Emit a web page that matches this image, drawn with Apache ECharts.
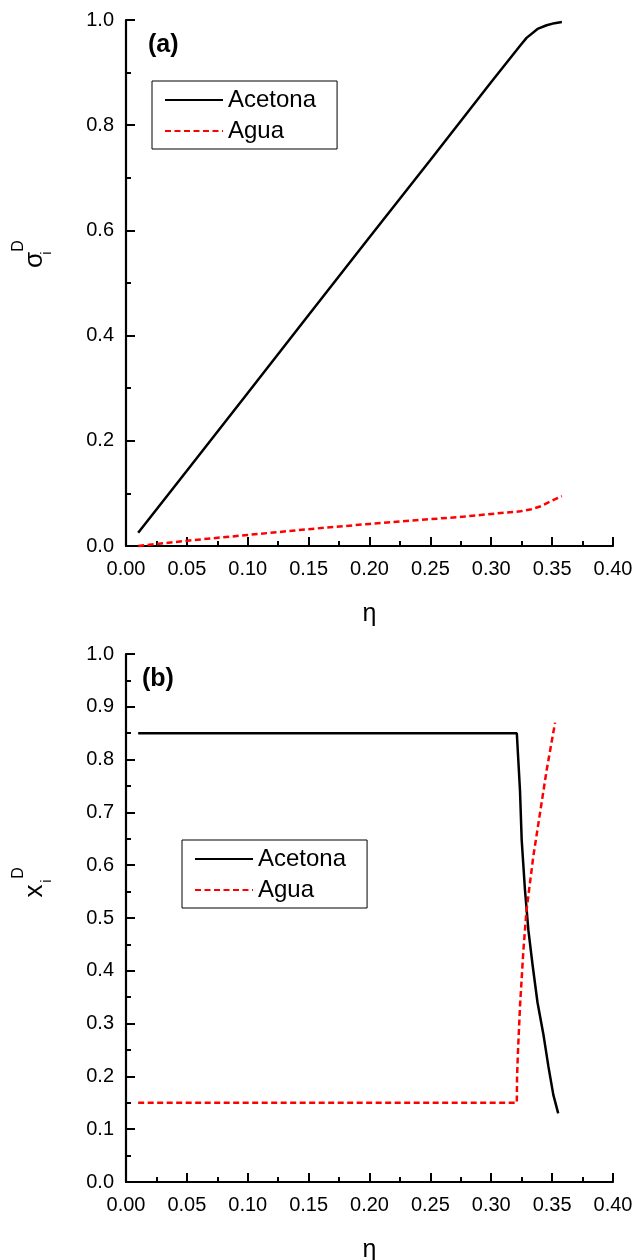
<!DOCTYPE html>
<html>
<head>
<meta charset="utf-8">
<script src="https://cdn.jsdelivr.net/npm/echarts@6/dist/echarts.min.js"></script>
<style>
html,body{margin:0;padding:0;background:#fff;}
#c{width:636px;height:1260px;}
</style>
</head>
<body>
<div id="c"></div>
<script>
// ---- Data ----
// Panel (a): sigma_i^D vs eta
const aAcetona = [[0.01,0.025],[0.05,0.143],[0.10,0.291],[0.15,0.439],[0.20,0.587],[0.25,0.734],[0.30,0.882],[0.324,0.952],[0.329,0.966],[0.338,0.983],[0.3455,0.990],[0.352,0.994],[0.358,0.996]];
const aAgua = [[0.01,0.0],[0.05,0.010],[0.10,0.021],[0.15,0.032],[0.20,0.042],[0.25,0.051],[0.278,0.056],[0.30,0.061],[0.324,0.066],[0.333,0.070],[0.340,0.075],[0.348,0.084],[0.358,0.095]];
// Panel (b): x_i^D vs eta
const bAcetona = [[0.01,0.85],[0.05,0.85],[0.10,0.85],[0.15,0.85],[0.20,0.85],[0.25,0.85],[0.30,0.85],[0.321,0.85],[0.3236,0.742],[0.325,0.648],[0.3277,0.553],[0.3305,0.477],[0.334,0.41],[0.338,0.34],[0.3428,0.28],[0.347,0.218],[0.351,0.165],[0.355,0.13]];
const bAgua = [[0.01,0.15],[0.05,0.15],[0.10,0.15],[0.15,0.15],[0.20,0.15],[0.25,0.15],[0.30,0.15],[0.321,0.15],[0.3212,0.20],[0.322,0.25],[0.3236,0.332],[0.3264,0.439],[0.329,0.515],[0.3345,0.616],[0.340,0.698],[0.3455,0.780],[0.3524,0.870]];
const seriesNames = ['Acetona','Agua'];
const xTicks = {min:0, max:0.4, interval:0.05};
const yTicksA = {min:0, max:1.0, interval:0.2};
const yTicksB = {min:0, max:1.0, interval:0.1};

const FONT = 'Liberation Sans, Arial, sans-serif';
const chart = echarts.init(document.getElementById('c'), null, {renderer:'canvas'});

function xAxis(gi){
  return {
    type:'value', gridIndex:gi, min:xTicks.min, max:xTicks.max, interval:xTicks.interval,
    name:'η', nameLocation:'middle', nameGap:56,
    nameTextStyle:{fontFamily:FONT, fontSize:25, color:'#000'},
    axisLine:{show:true, onZero:false, lineStyle:{color:'#000', width:2.2}},
    axisTick:{show:true, inside:true, length:9, lineStyle:{color:'#000', width:2}},
    minorTick:{show:true, splitNumber:2, length:5, lineStyle:{color:'#000', width:2}},
    splitLine:{show:false},
    axisLabel:{margin:13, fontFamily:FONT, fontSize:20, color:'#000', formatter:v=>v.toFixed(2)}
  };
}
function yAxis(gi, t){
  return {
    type:'value', gridIndex:gi, min:t.min, max:t.max, interval:t.interval,
    axisLine:{show:true, onZero:false, lineStyle:{color:'#000', width:2.2}},
    axisTick:{show:true, inside:true, length:9, lineStyle:{color:'#000', width:2}},
    minorTick:{show:true, splitNumber:2, length:5, lineStyle:{color:'#000', width:2}},
    splitLine:{show:false},
    axisLabel:{margin:12, fontFamily:FONT, fontSize:20, color:'#000', formatter:v=>v.toFixed(1)}
  };
}
const blackStyle = {color:'#000', width:2.5, type:'solid'};
const redStyle = {color:'#ff0000', width:2.5, type:[6,3.5]};
function line(name, data, gi, style){
  return {name, type:'line', xAxisIndex:gi, yAxisIndex:gi, data, symbol:'none', showSymbol:false,
    lineStyle:style, itemStyle:{color:style.color}, animation:false, clip:false};
}
function legend(gi, left, top){
  return {
    data:seriesNames.map(n=>({name:n})), orient:'vertical', left, top,
    borderColor:'#000', borderWidth:1, padding:[7,21,6,12],
    itemWidth:58, itemHeight:14, itemGap:7,
    itemStyle:{opacity:0, borderWidth:0},
    textStyle:{fontFamily:FONT, fontSize:24, color:'#000'},
    selectedMode:false
  };
}
function subLabel(x, y, main, sub, sup, subDx, supDx){
  return {
    type:'group', x, y, rotation:Math.PI/2, silent:true,
    children:[
      {type:'text', x:0, y:0, style:{text:main, font:'26px '+FONT, fill:'#000', align:'center', verticalAlign:'middle'}},
      {type:'text', x:subDx, y:12, style:{text:sub, font:'15px '+FONT, fill:'#000', align:'center', verticalAlign:'middle'}},
      {type:'text', x:supDx, y:-16, style:{text:sup, font:'16px '+FONT, fill:'#000', align:'center', verticalAlign:'middle'}}
    ]
  };
}

const option = {
  animation:false,
  backgroundColor:'#fff',
  grid:[
    {left:126, top:20, width:487, height:526, containLabel:false, outerBoundsMode:'none'},
    {left:126, top:654, width:487, height:528, containLabel:false, outerBoundsMode:'none'}
  ],
  xAxis:[xAxis(0), xAxis(1)],
  yAxis:[yAxis(0, yTicksA), yAxis(1, yTicksB)],
  legend:[legend(0,152,81), legend(1,182,840)],
  series:[
    line('Acetona', aAcetona, 0, blackStyle),
    line('Agua', aAgua, 0, redStyle),
    line('Acetona', bAcetona, 1, blackStyle),
    line('Agua', bAgua, 1, redStyle)
  ],
  graphic:[
    {type:'text', left:148, top:33, style:{text:'(a)', font:'bold 25px '+FONT, fill:'#000'}},
    {type:'text', left:142, top:667, style:{text:'(b)', font:'bold 25px '+FONT, fill:'#000'}},
    subLabel(35, 260, 'σ', 'i', 'D', 7, 14),
    subLabel(35, 891, 'x', 'i', 'D', 10, 18)
  ]
};
chart.setOption(option);
</script>
</body>
</html>
